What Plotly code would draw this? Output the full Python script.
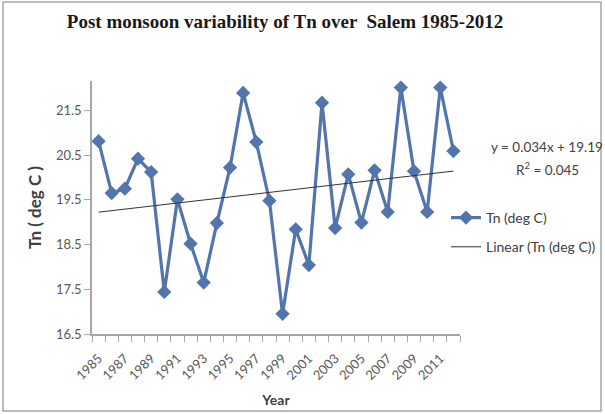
import plotly.graph_objects as go

# ---- data ----
years = list(range(1985, 2013))
tn_values = [20.81, 19.65, 19.75, 20.42, 20.12, 17.44, 19.51, 18.52, 17.65, 18.98,
             20.22, 21.89, 20.79, 19.48, 16.95, 18.84, 18.04, 21.67, 18.87, 20.07,
             18.99, 20.16, 19.23, 22.01, 20.14, 19.23, 22.01, 20.59]
trend_slope = 0.034
trend_intercept = 19.19
trend_r2 = 0.045
x_tick_years = list(range(1985, 2012, 2))
x_tick_labels = [str(y) for y in x_tick_years]
y_tick_values = [16.5, 17.5, 18.5, 19.5, 20.5, 21.5]
y_tick_labels = ["16.5", "17.5", "18.5", "19.5", "20.5", "21.5"]

trend_values = [trend_intercept + trend_slope * (i + 1) for i in range(len(years))]

W, H = 605, 414
L, R, T, B = 92, 460, 81, 334
Y_MIN = 16.5
PX_PER_UNIT = 44.73
Y_MAX = Y_MIN + (B - T) / PX_PER_UNIT

def px_x(p):
    return (p - L) / (R - L)

def px_y(p):
    return (B - p) / (B - T)

fig = go.Figure()
fig.add_trace(go.Scatter(
    x=years, y=tn_values, mode="lines+markers", name="Tn (deg C)",
    line=dict(color="#5275AB", width=3.2),
    marker=dict(symbol="diamond", size=11, color="#5275AB"),
    legendgroup="a", cliponaxis=False,
))
fig.add_trace(go.Scatter(
    x=years, y=trend_values, mode="lines", name="Linear (Tn (deg C))",
    line=dict(color="#333333", width=1),
    legendgroup="b",
))

fig.add_shape(type="rect", xref="paper", yref="paper",
              x0=px_x(3), x1=px_x(601), y0=px_y(411), y1=px_y(2),
              line=dict(color="#A6A6A6", width=1.5), layer="below")

eq_font = dict(family="Lato", size=13.5, color="#404040")
fig.add_annotation(xref="paper", yref="paper", x=px_x(547), y=px_y(147),
                   text=f"y = {trend_slope}x + {trend_intercept}",
                   showarrow=False, xanchor="center", yanchor="middle", font=eq_font)
fig.add_annotation(xref="paper", yref="paper", x=px_x(547), y=px_y(169),
                   text=f"R<sup>2</sup> = {trend_r2}",
                   showarrow=False, xanchor="center", yanchor="middle", font=eq_font)

fig.update_layout(
    width=W, height=H,
    margin=dict(l=L, r=W - R, t=T, b=H - B, autoexpand=False),
    paper_bgcolor="white", plot_bgcolor="white",
    title=dict(text="<b>Post monsoon variability of Tn over  Salem 1985-2012</b>",
               xref="container", yref="container",
               x=285 / W, xanchor="center", y=1 - 21 / H, yanchor="middle",
               font=dict(family="Liberation Serif", size=19, color="#1a1a1a")),
    showlegend=True,
    legend=dict(x=px_x(446), xanchor="left", y=px_y(202), yanchor="top",
                tracegroupgap=8, bgcolor="rgba(0,0,0,0)",
                font=dict(family="Lato", size=14, color="#404040")),
    font=dict(family="Lato", size=13, color="#595959"),
)

fig.update_xaxes(
    range=[1984.5, 2012.5], automargin=False,
    tickmode="array", tickvals=x_tick_years, ticktext=x_tick_labels,
    tickangle=-45, ticks="", showgrid=False, zeroline=False,
    ticklabelstandoff=10,
    showline=True, linecolor="#A6A6A6", linewidth=1.5,
    tickfont=dict(family="Lato", size=13, color="#595959"),
    minor=dict(tick0=1984.5, dtick=1, ticks="outside", ticklen=6,
               tickcolor="#A6A6A6", tickwidth=1, showgrid=False),
    title=dict(text="<b>Year</b>", standoff=13,
               font=dict(family="Lato", size=14, color="#404040")),
)
fig.update_yaxes(
    range=[Y_MIN, Y_MAX], automargin=False,
    tickmode="array", tickvals=y_tick_values, ticktext=y_tick_labels,
    ticks="outside", ticklen=6, tickcolor="#A6A6A6",
    showgrid=False, zeroline=False,
    showline=True, linecolor="#A6A6A6", linewidth=1.5,
    tickfont=dict(family="Lato", size=13, color="#595959"),
    title=dict(text="<b>Tn ( deg C )</b>", standoff=10,
               font=dict(family="Lato", size=17, color="#404040")),
)

fig.write_html("out.html", post_script="document.body.style.margin='0';",
               config={"displayModeBar": False})
